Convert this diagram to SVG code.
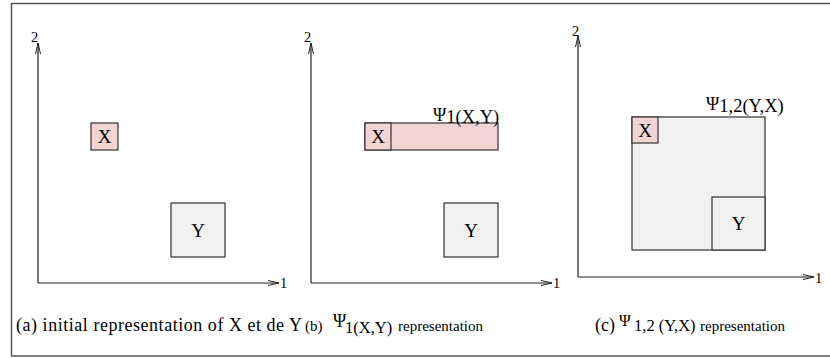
<svg xmlns="http://www.w3.org/2000/svg" width="830" height="358" viewBox="0 0 830 358">
<defs>
<marker id="ah" markerWidth="12" markerHeight="8" refX="11" refY="4" orient="auto" markerUnits="userSpaceOnUse">
<path d="M0,1.5 L11,4 L0,6.5" fill="none" stroke="#222" stroke-width="1"/>
</marker>
<style>
.frame{fill:#fff;stroke:#555;stroke-width:1.5}
.axis{stroke:#222;stroke-width:1.2;fill:none}
.pink{fill:#f2d4d4;stroke:#333;stroke-width:1.2}
.grey{fill:#f1f1f1;stroke:#333;stroke-width:1.2}
text{font-family:"Liberation Serif","Times New Roman",serif;fill:#000}
.lbl{font-size:19px}
.tag{font-size:18.5px}
.ax{font-size:14.5px}
.cap{font-size:18px}
.mid{font-size:16.5px}
.sm{font-size:15px}
.psi{font-size:18px}
.psic{font-size:16px}
</style>
</defs>
<rect class="frame" x="11.5" y="3.5" width="830" height="352.5"/>
<g id="connectors">
<line class="axis" x1="38" y1="283" x2="38" y2="43" marker-end="url(#ah)"/>
<line class="axis" x1="38" y1="283" x2="279" y2="283" marker-end="url(#ah)"/>
<line class="axis" x1="311" y1="283" x2="311" y2="43" marker-end="url(#ah)"/>
<line class="axis" x1="311" y1="283" x2="552" y2="283" marker-end="url(#ah)"/>
<line class="axis" x1="578" y1="277" x2="578" y2="36" marker-end="url(#ah)"/>
<line class="axis" x1="578" y1="277" x2="814" y2="277" marker-end="url(#ah)"/>
</g>
<g id="axis-labels">
<text class="ax" x="31" y="42">2</text>
<text class="ax" x="280" y="288">1</text>
<text class="ax" x="304" y="42">2</text>
<text class="ax" x="553" y="288">1</text>
<text class="ax" x="572" y="36">2</text>
<text class="ax" x="815" y="283">1</text>
</g>
<g id="a-X"><rect class="pink" x="91" y="123" width="27" height="27"/><text class="lbl" x="104.5" y="143" text-anchor="middle">X</text></g>
<g id="a-Y"><rect class="grey" x="171" y="203" width="54" height="54"/><text class="lbl" x="198" y="237" text-anchor="middle">Y</text></g>
<g id="b-psi"><rect class="pink" x="365" y="123" width="133" height="27"/><text x="433" y="123"><tspan class="psi" dy="-2">Ψ</tspan><tspan class="tag" dy="2">1(X,Y)</tspan></text></g>
<g id="b-X"><rect class="pink" x="365" y="123" width="26" height="27"/><text class="lbl" x="378" y="143" text-anchor="middle">X</text></g>
<g id="b-Y"><rect class="grey" x="444" y="203" width="54" height="54"/><text class="lbl" x="471" y="237" text-anchor="middle">Y</text></g>
<g id="c-psi"><rect class="grey" x="632" y="117" width="133" height="133"/><text x="706" y="112"><tspan class="psi" dy="-2">Ψ</tspan><tspan class="tag" dy="2">1,2(Y,X)</tspan></text></g>
<g id="c-X"><rect class="pink" x="632" y="117" width="26" height="26"/><text class="lbl" x="645" y="137" text-anchor="middle">X</text></g>
<g id="c-Y"><rect class="grey" x="712" y="197" width="53" height="53"/><text class="lbl" x="738.5" y="230" text-anchor="middle">Y</text></g>
<g id="captions">
<text class="cap" x="16" y="331" textLength="286" lengthAdjust="spacing">(a) initial representation of X et de Y</text>
<text class="sm" x="305" y="331">(b)</text>
<text class="psi" x="333" y="327">Ψ</text>
<text class="mid" x="345" y="333">1(X,Y)</text>
<text class="sm" x="398" y="331">representation</text>
<text class="cap" x="595" y="331">(c)</text>
<text class="psic" x="619" y="326">Ψ</text>
<text class="mid" x="634" y="331">1,2 (Y,X)</text>
<text class="sm" x="700" y="331">representation</text>
</g>
</svg>
